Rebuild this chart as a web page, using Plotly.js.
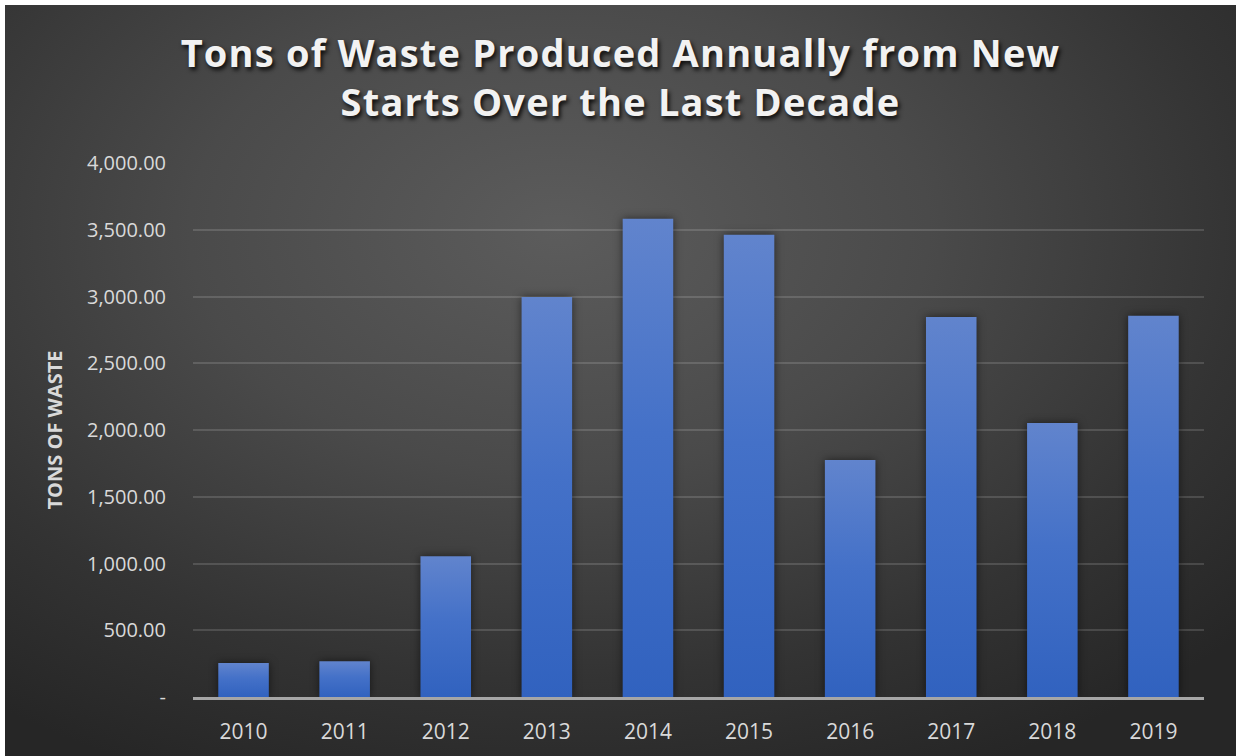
<!DOCTYPE html>
<html>
<head>
<meta charset="utf-8">
<script src="https://cdn.plot.ly/plotly-3.0.1.min.js"></script>
<style>
  html, body { margin: 0; padding: 0; background: #ffffff; width: 1236px; height: 756px; overflow: hidden; }
  #chart {
    position: absolute; left: 5px; top: 5px; width: 1231px; height: 751px;
    background: radial-gradient(ellipse 75% 80% at 45% 30%, #5c5c5c 0%, #4a4a4a 40%, #333333 75%, #262626 100%);
  }
  #chart .trace.bars .point path { filter: drop-shadow(0px 0px 4px rgba(0,0,0,0.55)); }
  #chart .gtitle { letter-spacing: 1.2px; }
</style>
</head>
<body>
<div id="chart"></div>
<script>
// ---- data ----
const years = ["2010", "2011", "2012", "2013", "2014", "2015", "2016", "2017", "2018", "2019"];
const tonsOfWaste = [255, 268, 1054, 2997, 3582, 3462, 1775, 2847, 2052, 2855];
const yTickVals = [0, 500, 1000, 1500, 2000, 2500, 3000, 3500, 4000];
const yTickText = ["-", "500.00", "1,000.00", "1,500.00", "2,000.00", "2,500.00", "3,000.00", "3,500.00", "4,000.00"];

const trace = {
  type: "bar",
  x: years,
  y: tonsOfWaste,
  marker: { color: "#4673c6", line: { width: 0 } },
  hoverinfo: "x+y"
};

const layout = {
  width: 1231,
  height: 751,
  paper_bgcolor: "rgba(0,0,0,0)",
  plot_bgcolor: "rgba(0,0,0,0)",
  margin: { l: 188, r: 32, t: 158, b: 59, pad: 0 },
  bargap: 0.5,
  showlegend: false,
  font: { family: "Open Sans, sans-serif", color: "#d9d9d9" },
  title: {
    text: "Tons of Waste Produced Annually from New<br>Starts Over the Last Decade",
    x: 0.5, xref: "container", xanchor: "center",
    y: 0.918, yref: "container", yanchor: "top",
    font: { family: "Open Sans, sans-serif", size: 38, weight: 700, color: "#f2f2f2",
            shadow: "2px 3px 4px rgba(0,0,0,0.85)" }
  },
  xaxis: {
    type: "category",
    showgrid: false,
    showline: true,
    linecolor: "#a6a6a6",
    linewidth: 3,
    zeroline: false,
    ticks: "",
    ticklabelstandoff: 14,
    tickfont: { family: "Open Sans, sans-serif", size: 21, color: "#d9d9d9" }
  },
  yaxis: {
    range: [0, 4000],
    tickvals: yTickVals,
    ticktext: yTickText,
    showgrid: true,
    gridcolor: "rgba(255,255,255,0.14)",
    gridwidth: 2,
    zeroline: false,
    showline: false,
    ticks: "",
    ticklabelstandoff: 26,
    tickfont: { family: "Open Sans, sans-serif", size: 20, color: "#d9d9d9" },
    automargin: true,
    title: {
      text: "TONS OF WASTE",
      standoff: 18,
      font: { family: "Open Sans, sans-serif", size: 20, weight: 700, color: "#d9d9d9" }
    }
  }
};

Plotly.newPlot("chart", [trace], layout, { displayModeBar: false, staticPlot: true }).then(function (gd) {
  // vertical gradient fill on bars, like the original
  const svg = gd.querySelector(".main-svg");
  const ns = "http://www.w3.org/2000/svg";
  let defs = svg.querySelector("defs");
  if (!defs) { defs = document.createElementNS(ns, "defs"); svg.insertBefore(defs, svg.firstChild); }
  const grad = document.createElementNS(ns, "linearGradient");
  grad.setAttribute("id", "barGrad");
  grad.setAttribute("x1", "0"); grad.setAttribute("y1", "0");
  grad.setAttribute("x2", "0"); grad.setAttribute("y2", "1");
  [["0%", "#6184cd"], ["45%", "#4471c8"], ["100%", "#3162bf"]].forEach(function (s) {
    const st = document.createElementNS(ns, "stop");
    st.setAttribute("offset", s[0]); st.setAttribute("stop-color", s[1]);
    grad.appendChild(st);
  });
  defs.appendChild(grad);
  gd.querySelectorAll(".trace.bars .point path").forEach(function (p) {
    p.style.fill = "url(#barGrad)";
  });
});
</script>
</body>
</html>
